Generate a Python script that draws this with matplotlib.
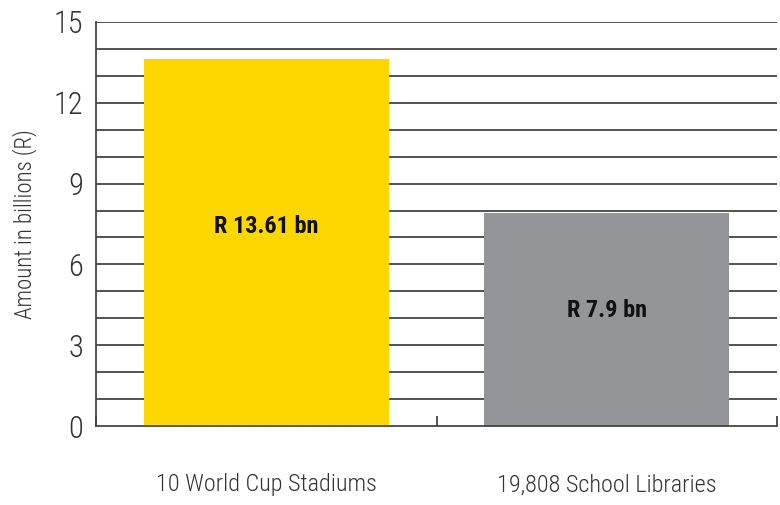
import matplotlib
matplotlib.use("Agg")
import matplotlib.pyplot as plt
from matplotlib import font_manager
import numpy as np

# Data
categories = ["10 World Cup Stadiums", "19,808 School Libraries"]
amounts = [13.61, 7.9]
bar_labels = ["R 13.61 bn", "R 7.9 bn"]
bar_colors = ["#FFD700", "#939598"]
y_ticks = [0, 3, 6, 9, 12, 15]

# Pick a narrow font if one is installed
names = {f.name for f in font_manager.fontManager.ttflist}
prefs = ["Roboto Condensed", "Liberation Sans Narrow", "Open Sans Condensed"]
chosen = next((p for p in prefs if p in names), "Liberation Sans")
plt.rcParams['font.family'] = [chosen, 'DejaVu Sans']

fig = plt.figure(figsize=(7.8, 5.05), dpi=100)
ax = fig.add_axes([96/780, 1 - 426/505, (777-96)/780, (426-22)/505])

x = np.arange(len(categories))
ax.bar(x, amounts, width=0.72, color=bar_colors, zorder=3)

# Gridlines every 1 unit
for yv in range(1, 16):
    ax.axhline(yv, color="#444444", linewidth=1.3, zorder=1)

# value labels sit a little above the middle of each bar
for xi, val, lab in zip(x, amounts, bar_labels):
    ax.text(xi, val * 0.545, lab, ha="center", va="center", fontsize=17.5,
            fontweight="bold", color="#111111", zorder=4)

ax.set_xlim(-0.5, 1.5)
ax.set_ylim(0, 15)
ax.set_yticks(y_ticks)
ax.set_yticklabels([str(t) for t in y_ticks], fontsize=22, color="#333333",
                   fontweight="light")
ax.tick_params(axis="y", length=0, pad=9)

ax.set_xticks(x)
ax.set_xticklabels(categories, fontsize=17.5, color="#333333", fontweight="light")
ax.tick_params(axis="x", which="major", length=0, pad=34)
ax.set_xticks([-0.5, 0.5, 1.5], minor=True)
ax.tick_params(axis="x", which="minor", direction="in", length=7, width=1.3, color="#444444")

ax.set_ylabel("Amount in billions (R)", fontsize=16.5, color="#333333",
              labelpad=12, fontweight="light")

for side in ["top", "right"]:
    ax.spines[side].set_visible(False)
for side in ["left", "bottom"]:
    ax.spines[side].set_color("#444444")
    ax.spines[side].set_linewidth(1.3)
    ax.spines[side].set_zorder(5)

fig.savefig("out.png", dpi=100)
